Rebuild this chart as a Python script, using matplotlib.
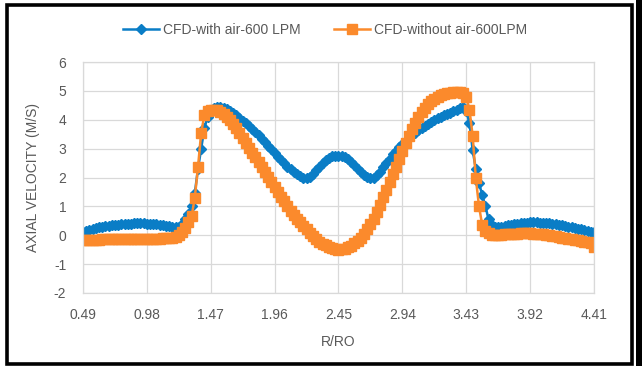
import numpy as np
import matplotlib
matplotlib.use("Agg")
import matplotlib.pyplot as plt
from matplotlib.patches import Rectangle

plt.rcParams['font.family'] = ['Liberation Sans', 'DejaVu Sans']
plt.rcParams['axes.unicode_minus'] = False

# R/RO categories: 0.49 .. 4.41, 161 points
r_ro = np.round(np.linspace(0.49, 4.41, 161), 4)
tick_vals = [0.49, 0.98, 1.47, 1.96, 2.45, 2.94, 3.43, 3.92, 4.41]
tick_labels = ["0.49", "0.98", "1.47", "1.96", "2.45", "2.94", "3.43", "3.92", "4.41"]

# CFD-with air-600 LPM
with_air = [
    0.10, 0.14, 0.18, 0.21, 0.24, 0.27, 0.29, 0.31, 0.33, 0.35,
    0.36, 0.37, 0.38, 0.39, 0.40, 0.40, 0.41, 0.41, 0.41, 0.41,
    0.40, 0.40, 0.39, 0.38, 0.37, 0.35, 0.33, 0.31, 0.29, 0.28,
    0.30, 0.40, 0.55, 0.75, 1.00, 1.45, 2.30, 3.00, 3.70, 4.10,
    4.30, 4.42, 4.45, 4.44, 4.40, 4.36, 4.30, 4.23, 4.15, 4.06,
    3.97, 3.88, 3.78, 3.68, 3.58, 3.47, 3.35, 3.23, 3.10, 2.97,
    2.85, 2.72, 2.60, 2.49, 2.38, 2.29, 2.20, 2.12, 2.05, 2.00,
    1.98, 2.02, 2.12, 2.25, 2.38, 2.50, 2.60, 2.68, 2.73, 2.75,
    2.76, 2.75, 2.72, 2.65, 2.55, 2.42, 2.30, 2.18, 2.08, 2.02,
    1.98, 2.00, 2.08, 2.20, 2.35, 2.50, 2.65, 2.80, 2.93, 3.05,
    3.16, 3.27, 3.37, 3.46, 3.55, 3.64, 3.72, 3.80, 3.87, 3.93,
    3.99, 4.05, 4.10, 4.15, 4.20, 4.25, 4.30, 4.35, 4.40, 4.45,
    4.30, 3.90, 2.95, 2.30, 1.80, 1.40, 1.00, 0.55, 0.35, 0.28,
    0.28, 0.30, 0.32, 0.34, 0.36, 0.38, 0.40, 0.42, 0.43, 0.44,
    0.45, 0.45, 0.45, 0.44, 0.43, 0.42, 0.41, 0.40, 0.38, 0.36,
    0.34, 0.32, 0.30, 0.28, 0.26, 0.23, 0.20, 0.17, 0.14, 0.12, 0.10,
]

# CFD-without air-600LPM
without_air = [
    -0.16, -0.16, -0.16, -0.15, -0.15, -0.15, -0.14, -0.14, -0.14, -0.13,
    -0.13, -0.13, -0.12, -0.12, -0.12, -0.12, -0.12, -0.12, -0.12, -0.12,
    -0.12, -0.12, -0.12, -0.12, -0.12, -0.11, -0.11, -0.10, -0.08, -0.06,
    0.00, 0.10, 0.25, 0.45, 0.65, 1.30, 2.35, 3.55, 4.15, 4.30,
    4.35, 4.35, 4.33, 4.28, 4.20, 4.10, 3.98, 3.85, 3.70, 3.53,
    3.37, 3.20, 3.03, 2.86, 2.70, 2.53, 2.36, 2.19, 2.02, 1.85,
    1.68, 1.51, 1.34, 1.17, 1.00, 0.84, 0.70, 0.57, 0.45, 0.32,
    0.20, 0.08, -0.03, -0.13, -0.22, -0.29, -0.35, -0.40, -0.44, -0.47,
    -0.50, -0.49, -0.47, -0.42, -0.36, -0.28, -0.19, -0.08, 0.05, 0.20,
    0.38, 0.58, 0.80, 1.05, 1.31, 1.57, 1.84, 2.11, 2.38, 2.65,
    2.92, 3.18, 3.44, 3.68, 3.90, 4.10, 4.27, 4.42, 4.54, 4.64,
    4.72, 4.79, 4.84, 4.88, 4.91, 4.93, 4.95, 4.95, 4.95, 4.92,
    4.80, 4.35, 3.45, 1.97, 1.00, 0.35, 0.15, 0.07, 0.02, 0.00,
    0.00, 0.02, 0.03, 0.05, 0.05, 0.06, 0.06, 0.07, 0.07, 0.07,
    0.07, 0.06, 0.05, 0.04, 0.03, 0.02, 0.00, -0.02, -0.04, -0.06,
    -0.08, -0.10, -0.12, -0.14, -0.16, -0.18, -0.20, -0.22, -0.25, -0.28, -0.40,
]

blue = '#0A7DC6'
orange = '#FB8A2C'
grey_txt = '#595959'

fig = plt.figure(figsize=(6.44, 3.66), dpi=100)
ax = fig.add_axes([83/644, 1 - 293/366, (594-83)/644, (293-62)/366])

ax.plot(r_ro, with_air, color=blue, lw=1.8, marker='D', ms=5.5,
        label='CFD-with air-600 LPM')
ax.plot(r_ro, without_air, color=orange, lw=1.8, marker='s', ms=7.5,
        label='CFD-without air-600LPM')

ax.set_xlim(0.49, 4.41)
ax.set_ylim(-2, 6)
ax.set_xticks(tick_vals)
ax.set_xticklabels(tick_labels)
ax.set_yticks(range(-2, 7))
ax.grid(True, color='#D9D9D9', lw=0.9)
ax.set_axisbelow(True)
for s in ax.spines.values():
    s.set_color('#D9D9D9')
    s.set_linewidth(0.9)
ax.tick_params(length=0, labelsize=10, colors=grey_txt, pad=11)
ax.tick_params(axis='y', pad=12)

ax.set_xlabel('R/RO', fontsize=10, color=grey_txt, labelpad=9)
ax.set_ylabel('AXIAL VELOCITY (M/S)', fontsize=10, color=grey_txt, labelpad=10)

fig.legend(loc='center', bbox_to_anchor=(0.505, 1 - 30/366), ncol=2,
           frameon=False, fontsize=10, handlelength=2.6, columnspacing=2.4,
           handletextpad=0.3, labelcolor=grey_txt, markerscale=0.9)

# outer black frame
fig.add_artist(Rectangle((6.5/644, 2/366), (632-6.5)/644, (361-2)/366,
                         transform=fig.transFigure, fill=False,
                         edgecolor='black', lw=2.6))
fig.add_artist(Rectangle((636/644, 0), 6/644, 1, transform=fig.transFigure,
                         facecolor='black', edgecolor='none'))

fig.savefig('out.png', dpi=100)
